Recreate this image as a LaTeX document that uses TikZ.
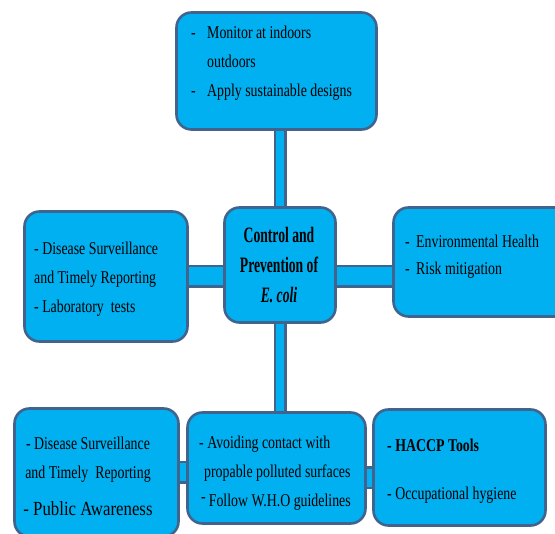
\documentclass[tikz,border=0pt]{standalone}
\usepackage{fontspec}
\setmainfont{Liberation Serif}[FakeStretch=0.77]
\newfontfamily\titlefont{Liberation Serif}[FakeStretch=0.62]
\newfontfamily\widefont{Liberation Serif}[FakeStretch=0.84]
\usepackage{tikz}
\usetikzlibrary{backgrounds}
\definecolor{ecolifill}{HTML}{00B0F0}
\definecolor{ecoliedge}{HTML}{41648F}

\tikzset{
  panel/.style={draw=ecoliedge, fill=ecolifill, line width=2.6pt, rounded corners=15pt, inner sep=0pt},
  txt/.style={inner sep=0pt, font=\fontsize{18}{29}\selectfont},
  bar/.style={draw=ecoliedge, line width=2.5pt, double=ecolifill, double distance=#1},
  bar/.default=8pt
}

\begin{document}
\begin{tikzpicture}[x=1pt,y=-1pt]
        \useasboundingbox (0,0) rectangle (555,534);
        \clip (0,0) rectangle (555,534);
        % boxes
        \node[panel, minimum width=200pt, minimum height=117pt] (monitor) at (276.5, 71) {};
        \node[panel, minimum width=111pt, minimum height=115pt] (centre) at (280, 265) {};
        \node[panel, minimum width=163pt, minimum height=130pt] (disease) at (106, 276.5) {};
        \node[panel, minimum width=177pt, minimum height=109pt] (envhealth) at (482, 262) {};
        \node[panel, minimum width=164pt, minimum height=128pt] (awareness) at (96.5, 472.5) {};
        \node[panel, minimum width=178pt, minimum height=111pt] (avoid) at (276.5, 468) {};
        \node[panel, minimum width=172pt, minimum height=116pt] (haccp) at (459.5, 467.5) {};
        % texts
        \node[txt, anchor=north west, align=left] (monitortxt) at (191, 25.5)
          {\makebox[16pt][l]{-}Monitor at indoors\\ \hspace*{16pt}outdoors\\ \makebox[16pt][l]{-}Apply sustainable designs};
        \node[txt, align=center, font={\titlefont\fontsize{22}{30}\selectfont\bfseries}] (centretxt) at (279, 265.5)
          {Control and\\ Prevention of\\ \textit{E. coli}};
        \node[txt, anchor=north west, align=left] (diseasetxt) at (34, 241.5)
          {- Disease Surveillance\\ and Timely Reporting\\ - Laboratory\ \ tests};
        \node[txt, anchor=north west, align=left, font={\fontsize{18}{27}\selectfont}] (envhealthtxt) at (405, 235)
          {\makebox[11pt][l]{-}Environmental Health\\ \makebox[11pt][l]{-}Risk mitigation};
        \node[txt, anchor=north, align=center] (awarenesstxt) at (88, 437)
          {- Disease Surveillance\\ and Timely\ \ Reporting\\[8pt] {\widefont\fontsize{20}{29}\selectfont - Public Awareness}};
        \node[txt, anchor=north west, align=left] (avoidtxt) at (199, 436)
          {- Avoiding contact with\\ \hspace*{5pt}propable polluted surfaces\\ \hspace*{2pt}\raisebox{4pt}{-}\,Follow W.H.O guidelines};
        \node[txt, anchor=north west, align=left, font={\fontsize{18}{48}\selectfont}] (haccptxt) at (387, 439)
          {\textbf{- HACCP Tools}\\ - Occupational hygiene};
        % connectors
        \begin{scope}[on background layer]
          \draw[bar=8pt] (centre.north |- monitor.south) -- (centre.north);
          \draw[bar=8pt] (centre.south) -- (centre.south |- avoid.north);
          \draw[bar=18pt] (disease.east) -- (disease.east -| centre.west);
          \draw[bar=18pt] (centre.east |- disease.east) -- (envhealth.west |- disease.east);
          \draw[bar=18pt] (awareness.east) -- (awareness.east -| avoid.west);
          \draw[bar=18pt] ([yshift=-10pt]avoid.east) -- ([yshift=-10pt]avoid.east -| haccp.west);
        \end{scope}
      \end{tikzpicture}
\end{document}
